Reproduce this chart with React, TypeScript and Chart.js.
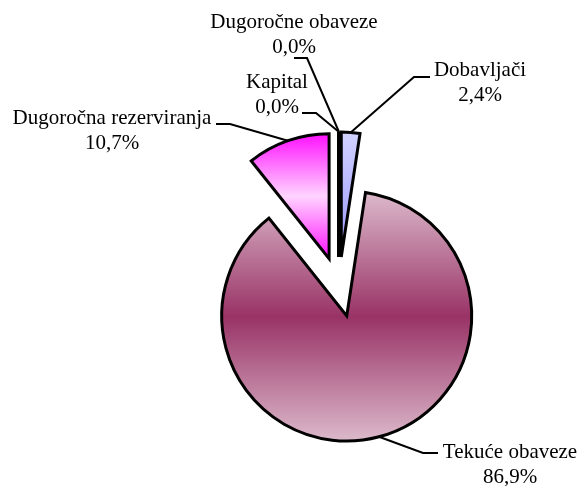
import React, { useEffect, useRef } from "react";
import { Chart, registerables } from "chart.js";

Chart.register(...registerables);

const categories = ["Dobavljači", "Tekuće obaveze", "Dugoročna rezerviranja", "Kapital", "Dugoročne obaveze"];
const values = [2.4, 86.9, 10.7, 0.0, 0.0];

// gradient stops per slice (top -> bottom)
const gradientStops: string[][] = [
  ["#d2d2ff", "#b4b4ff", "#9a9aff"],
  ["#dcb9cb", "#993366", "#dcb9cb"],
  ["#ff10ff", "#ffd4ff", "#ff10ff"],
  ["#000000", "#000000", "#000000"],
  ["#000000", "#000000", "#000000"],
];

const EXPLODE = 30;
const RADIUS = 125;
const LABEL_FONT = '21px "Liberation Serif", "Times New Roman", Times, serif';

// label layout: text center of first line, leader polyline (after edge point)
const labelLayout = [
  { tx: 480, ty: 70, leader: [[414, 77], [430, 77]] },
  { tx: 510, ty: 452, leader: [[423, 453], [438, 453]] },
  { tx: 112, ty: 118, leader: [[230, 124], [216, 124]] },
  { tx: 277, ty: 82, leader: [[316, 113], [302, 113]] },
  { tx: 294, ty: 22, leader: [[307, 58], [294, 58]] },
];

const fmt = (v: number) => v.toFixed(1).replace(".", ",") + "%";

function sliceGradient(ctx: any) {
  const chart = ctx.chart;
  const ca = chart.chartArea;
  const i = ctx.dataIndex;
  const stops = gradientStops[i];
  if (!ca) return stops[1];
  const cx = (ca.left + ca.right) / 2;
  const cy = (ca.top + ca.bottom) / 2;
  const total = values.reduce((a, b) => a + b, 0);
  let cum = 0;
  for (let k = 0; k < i; k++) cum += values[k];
  const a0 = -Math.PI / 2 + (2 * Math.PI * cum) / total;
  const a1 = a0 + (2 * Math.PI * values[i]) / total;
  const mid = (a0 + a1) / 2;
  const sx = cx + Math.cos(mid) * EXPLODE;
  const sy = cy + Math.sin(mid) * EXPLODE;
  const ys = [sy, sy + Math.sin(a0) * RADIUS, sy + Math.sin(a1) * RADIUS];
  const inRange = (a: number) => {
    for (let t = -2; t <= 2; t++) {
      const x = a + t * 2 * Math.PI;
      if (x >= a0 && x <= a1) return true;
    }
    return false;
  };
  if (inRange(-Math.PI / 2)) ys.push(sy - RADIUS);
  if (inRange(Math.PI / 2)) ys.push(sy + RADIUS);
  const minY = Math.min(...ys);
  const maxY = Math.max(...ys);
  const g = chart.ctx.createLinearGradient(0, minY, 0, maxY === minY ? minY + 1 : maxY);
  g.addColorStop(0, stops[0]);
  g.addColorStop(0.5, stops[1]);
  g.addColorStop(1, stops[2]);
  return g;
}

const explodePlugin = {
  id: "explode",
  afterUpdate(chart: any) {
    const meta = chart.getDatasetMeta(0);
    meta.data.forEach((arc: any) => {
      const mid = (arc.startAngle + arc.endAngle) / 2;
      arc.x = arc.x + Math.cos(mid) * EXPLODE;
      arc.y = arc.y + Math.sin(mid) * EXPLODE;
    });
  },
};

const labelPlugin = {
  id: "pieLabels",
  afterDatasetsDraw(chart: any) {
    const ctx = chart.ctx;
    const meta = chart.getDatasetMeta(0);
    ctx.save();
    // zero-value slices drawn as radial lines
    meta.data.forEach((arc: any) => {
      if (arc.endAngle - arc.startAngle === 0) {
        ctx.beginPath();
        ctx.strokeStyle = "#000";
        ctx.lineWidth = 4;
        ctx.lineCap = "butt";
        ctx.moveTo(arc.x, arc.y);
        ctx.lineTo(arc.x + Math.cos(arc.startAngle) * arc.outerRadius, arc.y + Math.sin(arc.startAngle) * arc.outerRadius);
        ctx.stroke();
      }
    });
    meta.data.forEach((arc: any, i: number) => {
      const lay = labelLayout[i];
      const mid = (arc.startAngle + arc.endAngle) / 2;
      const ex = arc.x + Math.cos(mid) * arc.outerRadius;
      const ey = arc.y + Math.sin(mid) * arc.outerRadius;
      ctx.beginPath();
      ctx.strokeStyle = "#000";
      ctx.lineWidth = 2;
      ctx.lineJoin = "miter";
      ctx.moveTo(ex, ey);
      lay.leader.forEach((p) => ctx.lineTo(p[0], p[1]));
      ctx.stroke();
      ctx.fillStyle = "#000";
      ctx.font = LABEL_FONT;
      ctx.textAlign = "center";
      ctx.textBaseline = "middle";
      ctx.fillText(categories[i], lay.tx, lay.ty);
      ctx.fillText(fmt(values[i]), lay.tx, lay.ty + 25);
    });
    ctx.restore();
  },
};

export default function App() {
  const ref = useRef<HTMLCanvasElement>(null);
  useEffect(() => {
    if (!ref.current) return;
    const chart = new Chart(ref.current, {
      type: "pie",
      data: {
        labels: categories,
        datasets: [
          {
            data: values,
            backgroundColor: sliceGradient as any,
            borderColor: "#000",
            borderWidth: 3,
            borderJoinStyle: "miter",
          } as any,
        ],
      },
      options: {
        animation: false,
        responsive: false,
        events: [],
        radius: RADIUS,
        layout: { padding: { left: 99, right: 0, top: 88, bottom: 0 } },
        plugins: { legend: { display: false }, tooltip: { enabled: false } },
      } as any,
      plugins: [explodePlugin, labelPlugin],
    });
    let alive = true;
    if ((document as any).fonts && (document as any).fonts.load) {
      (document as any).fonts.load(LABEL_FONT, "Dugoročne").then(() => {
        if (alive) chart.draw();
      }).catch(() => {});
    }
    return () => {
      alive = false;
      chart.destroy();
    };
  }, []);
  return (
    <div style={{ position: "absolute", left: 0, top: 0, width: 579, height: 486, background: "#fff" }}>
      <span style={{ position: "absolute", left: -9999, top: 0, fontFamily: '"Liberation Serif"', fontSize: 21 }}>Dugoročne</span>
      <canvas ref={ref} width={579} height={486} />
    </div>
  );
}
